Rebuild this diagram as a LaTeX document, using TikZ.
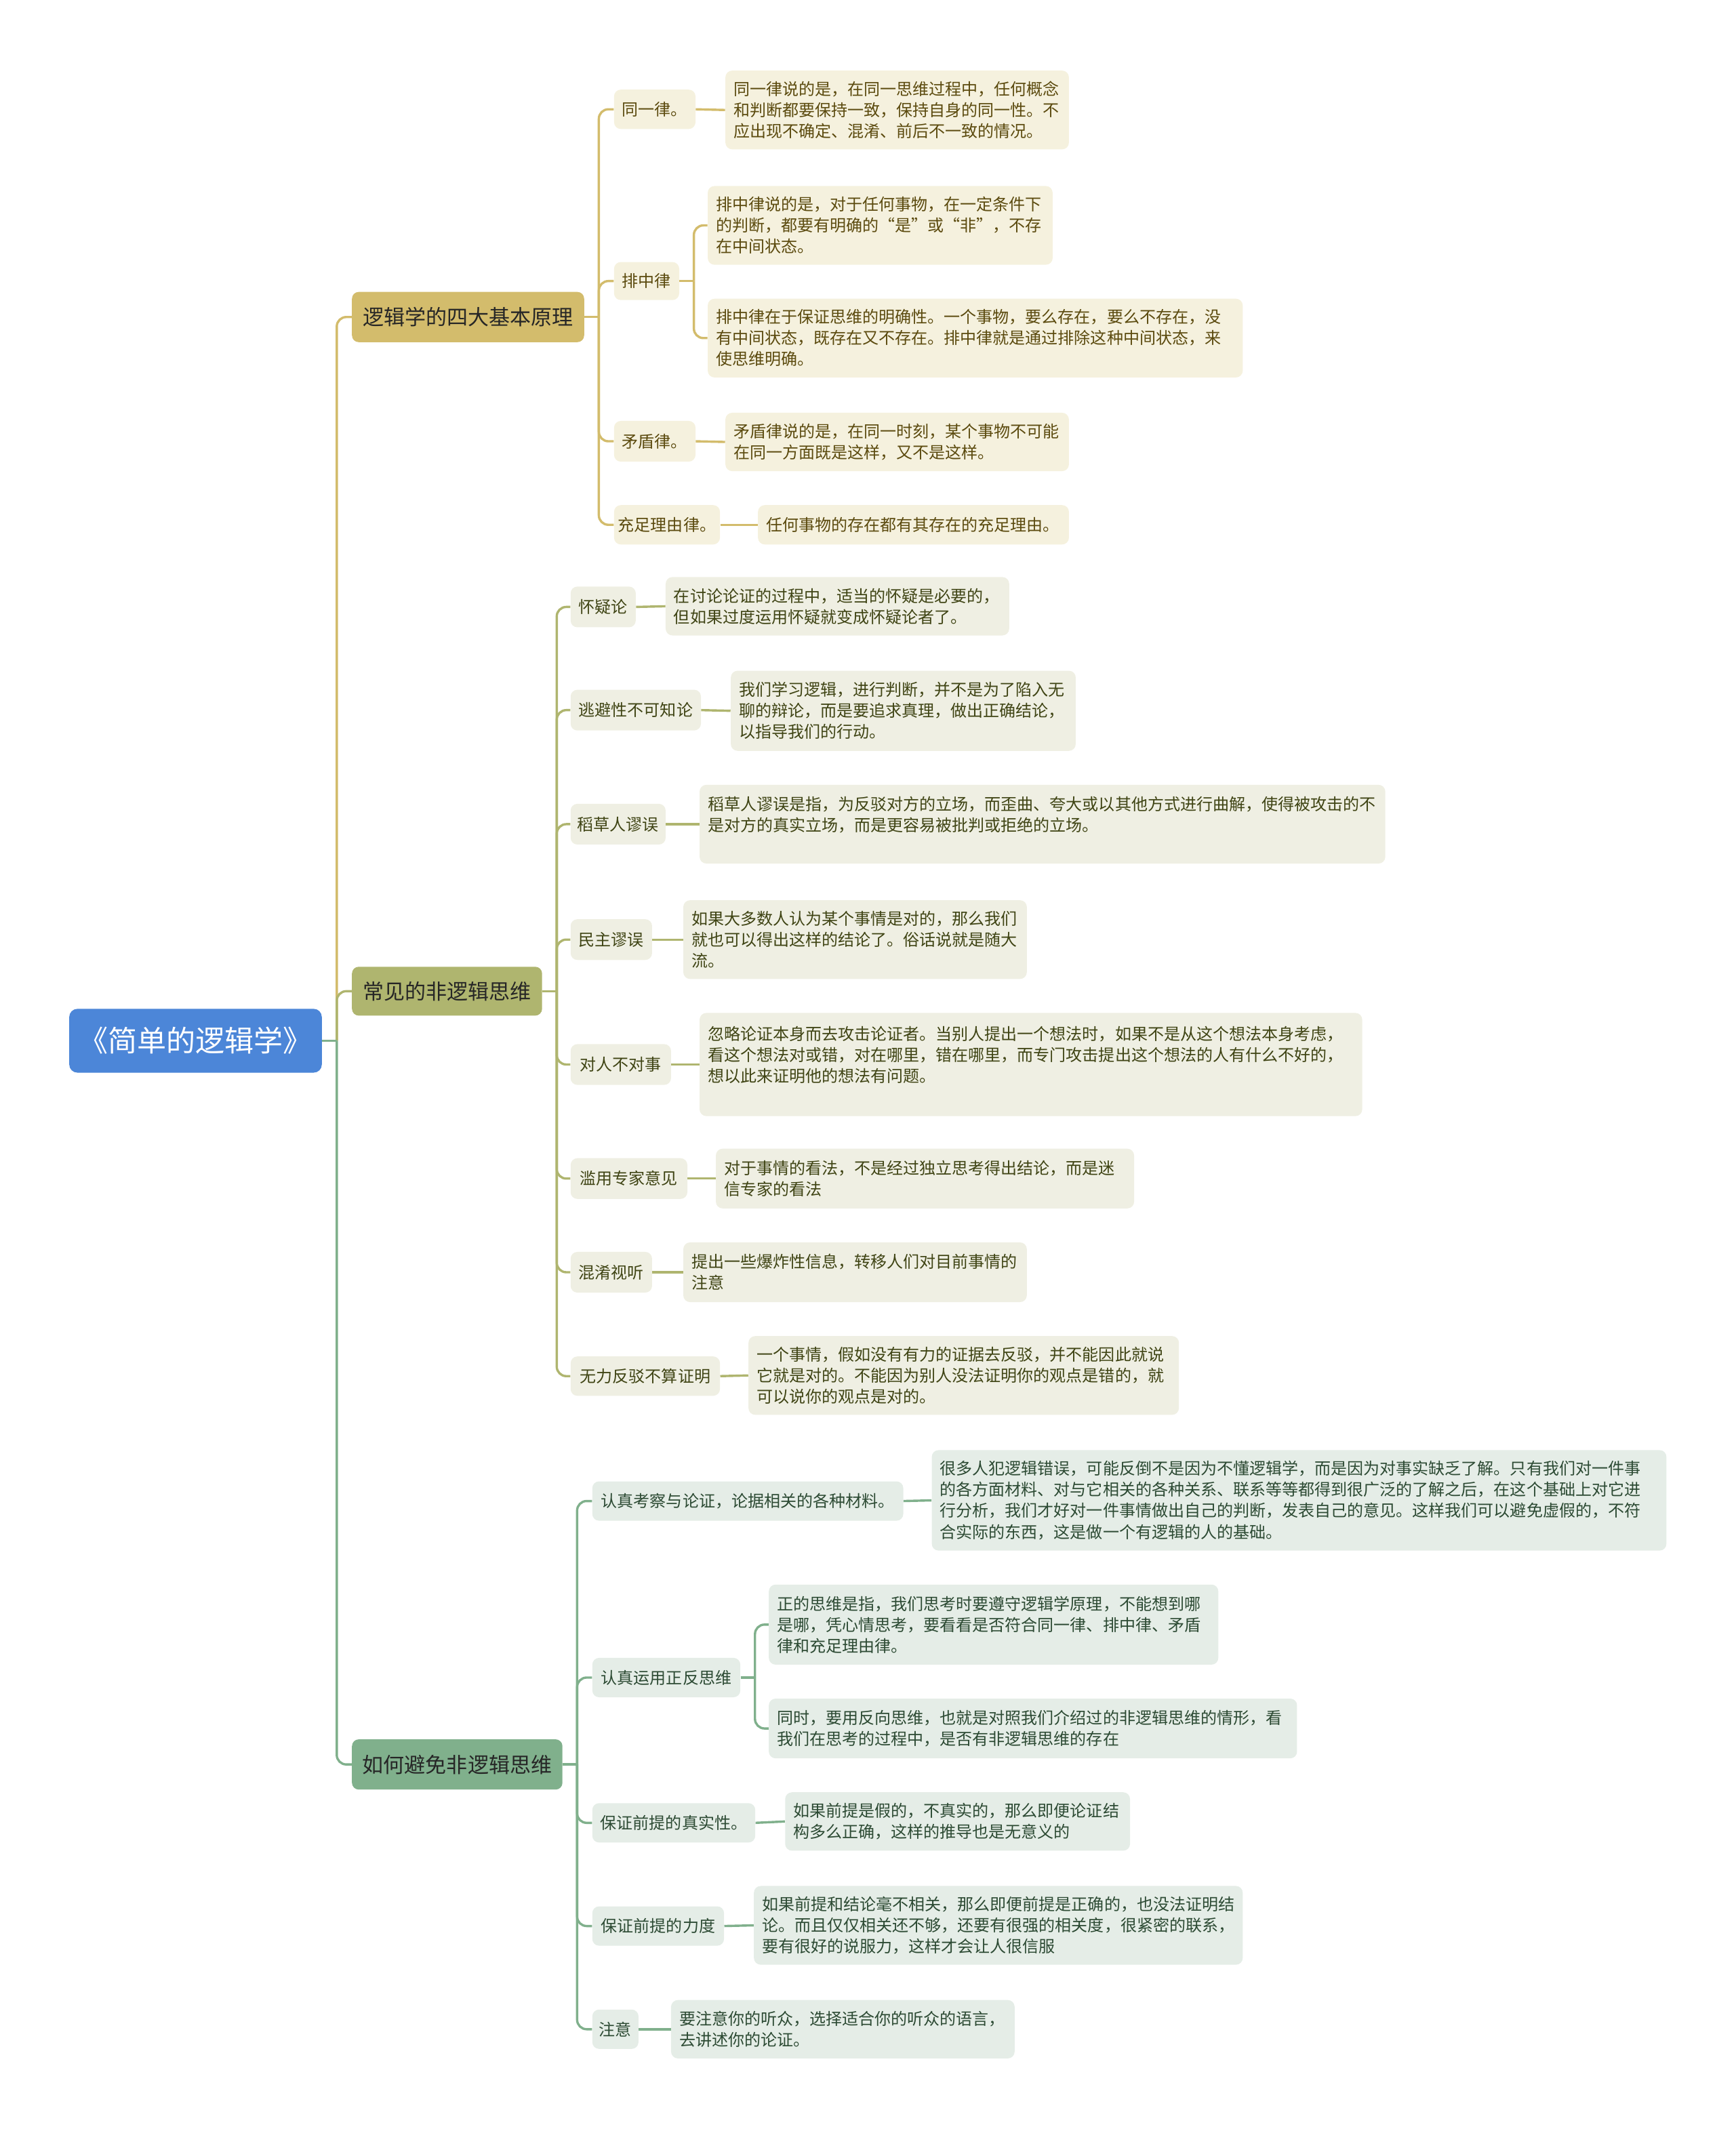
\documentclass[tikz,border=0pt]{standalone}
\usepackage{fontspec}
\newfontfamily\cjk{Noto Sans CJK SC}
\definecolor{rootc}{HTML}{4C86D8}
\definecolor{goldc}{HTML}{D3BC6C}
\definecolor{olivec}{HTML}{AFB56F}
\definecolor{greenc}{HTML}{80B08C}
\definecolor{goldbg}{HTML}{F5F1DE}
\definecolor{olivebg}{HTML}{EFEFE3}
\definecolor{greenbg}{HTML}{E5EDE7}
\definecolor{goldtx}{HTML}{5B4A0E}
\definecolor{olivetx}{HTML}{3F4414}
\definecolor{greentx}{HTML}{2C4A33}
\begin{document}
\begin{tikzpicture}[x=1pt,y=-1pt,
  base/.style={anchor=west,rounded corners=5pt,inner sep=0pt},
  mainbox/.style={base,align=center,font=\cjk\fontsize{15.5}{18}\selectfont},
  kid/.style={base,align=center,font=\cjk\fontsize{12}{15.5}\selectfont},
  leaf/.style={base,inner xsep=6pt,align=left,font=\cjk\fontsize{12}{15.5}\selectfont},
  gk/.style={fill=goldbg,text=goldtx},
  ok/.style={fill=olivebg,text=olivetx},
  grk/.style={fill=greenbg,text=greentx},
  gl/.style={draw=goldc,line width=1.7pt},
  ol/.style={draw=olivec,line width=1.7pt},
  grl/.style={draw=greenc,line width=1.7pt},
  rc/.style={rounded corners=7pt}]
\useasboundingbox (0,0) rectangle (1278,1568);

% root
\node[base,anchor=center,fill=rootc,text=white,minimum width=186pt,minimum height=47pt,rounded corners=6pt,font=\cjk\fontsize{21.5}{24}\selectfont] (root) at (144,766.5) {《简单的逻辑学》};

% main branches
\node[mainbox,fill=goldc,text=black!85,minimum width=171pt,minimum height=37pt] (b1) at (259,233.5) {逻辑学的四大基本原理};
\node[mainbox,fill=olivec,text=black!85,minimum width=140pt,minimum height=36pt] (b2) at (259,730) {常见的非逻辑思维};
\node[mainbox,fill=greenc,text=black!85,minimum width=155pt,minimum height=37pt] (b3) at (259,1299.5) {如何避免非逻辑思维};

% ---------- branch 1 ----------
\node[kid,gk,minimum width=60pt,minimum height=29pt] (c11) at (452,80.5) {同一律。};
\node[leaf,gk,text width=241pt,minimum height=58pt] (l11) at (534,81) {同一律说的是，在同一思维过程中，任何概念\\和判断都要保持一致，保持自身的同一性。不\\应出现不确定、混淆、前后不一致的情况。};
\node[kid,gk,minimum width=48pt,minimum height=28pt] (c12) at (452,207) {排中律};
\node[leaf,gk,text width=242pt,minimum height=58pt] (l12a) at (521,166) {排中律说的是，对于任何事物，在一定条件下\\的判断，都要有明确的“是”或“非”，不存\\在中间状态。};
\node[leaf,gk,text width=382pt,minimum height=58pt] (l12b) at (521,249) {排中律在于保证思维的明确性。一个事物，要么存在，要么不存在，没\\有中间状态，既存在又不存在。排中律就是通过排除这种中间状态，来\\使思维明确。};
\node[kid,gk,minimum width=60pt,minimum height=30pt] (c13) at (452,325) {矛盾律。};
\node[leaf,gk,text width=241pt,minimum height=43pt] (l13) at (534,325.5) {矛盾律说的是，在同一时刻，某个事物不可能\\在同一方面既是这样，又不是这样。};
\node[kid,gk,minimum width=78pt,minimum height=29pt] (c14) at (452,386.5) {充足理由律。};
\node[leaf,gk,text width=217pt,minimum height=29pt] (l14) at (558,386.5) {任何事物的存在都有其存在的充足理由。};

% ---------- branch 2 ----------
\node[kid,ok,minimum width=48pt,minimum height=30pt] (c21) at (420,447) {怀疑论};
\node[leaf,ok,text width=241pt,minimum height=43pt] (l21) at (490,446.5) {在讨论论证的过程中，适当的怀疑是必要的，\\但如果过度运用怀疑就变成怀疑论者了。};
\node[kid,ok,minimum width=96pt,minimum height=30pt] (c22) at (420,523) {逃避性不可知论};
\node[leaf,ok,text width=242pt,minimum height=59pt] (l22) at (538,523.5) {我们学习逻辑，进行判断，并不是为了陷入无\\聊的辩论，而是要追求真理，做出正确结论，\\以指导我们的行动。};
\node[kid,ok,minimum width=70pt,minimum height=30pt] (c23) at (420,607) {稻草人谬误};
\node[leaf,ok,text width=493pt,minimum height=58pt] (l23) at (515,607) {稻草人谬误是指，为反驳对方的立场，而歪曲、夸大或以其他方式进行曲解，使得被攻击的不\\是对方的真实立场，而是更容易被批判或拒绝的立场。\\\mbox{}};
\node[kid,ok,minimum width=60pt,minimum height=30pt] (c24) at (420,692) {民主谬误};
\node[leaf,ok,text width=241pt,minimum height=58pt] (l24) at (503,692) {如果大多数人认为某个事情是对的，那么我们\\就也可以得出这样的结论了。俗话说就是随大\\流。};
\node[kid,ok,minimum width=74pt,minimum height=30pt] (c25) at (420,784) {对人不对事};
\node[leaf,ok,text width=476pt,minimum height=76pt] (l25) at (515,784) {忽略论证本身而去攻击论证者。当别人提出一个想法时，如果不是从这个想法本身考虑，\\看这个想法对或错，对在哪里，错在哪里，而专门攻击提出这个想法的人有什么不好的，\\想以此来证明他的想法有问题。\\\mbox{}};
\node[kid,ok,minimum width=86pt,minimum height=30pt] (c26) at (420,868) {滥用专家意见};
\node[leaf,ok,text width=296pt,minimum height=44pt] (l26) at (527,868) {对于事情的看法，不是经过独立思考得出结论，而是迷\\信专家的看法};
\node[kid,ok,minimum width=60pt,minimum height=30pt] (c27) at (420,937) {混淆视听};
\node[leaf,ok,text width=241pt,minimum height=44pt] (l27) at (503,937) {提出一些爆炸性信息，转移人们对目前事情的\\注意};
\node[kid,ok,minimum width=110pt,minimum height=29pt] (c28) at (420,1013.5) {无力反驳不算证明};
\node[leaf,ok,text width=305pt,minimum height=58pt] (l28) at (551,1013) {一个事情，假如没有有力的证据去反驳，并不能因此就说\\它就是对的。不能因为别人没法证明你的观点是错的，就\\可以说你的观点是对的。};

% ---------- branch 3 ----------
\node[kid,grk,minimum width=229pt,minimum height=29pt] (c31) at (436,1105.5) {认真考察与论证，论据相关的各种材料。};
\node[leaf,grk,text width=529pt,minimum height=74pt] (l31) at (686,1105) {很多人犯逻辑错误，可能反倒不是因为不懂逻辑学，而是因为对事实缺乏了解。只有我们对一件事\\的各方面材料、对与它相关的各种关系、联系等等都得到很广泛的了解之后，在这个基础上对它进\\行分析，我们才好对一件事情做出自己的判断，发表自己的意见。这样我们可以避免虚假的，不符\\合实际的东西，这是做一个有逻辑的人的基础。};
\node[kid,grk,minimum width=109pt,minimum height=29pt] (c32) at (436,1235.5) {认真运用正反思维};
\node[leaf,grk,text width=319pt,minimum height=59pt] (l32a) at (566,1196.5) {正的思维是指，我们思考时要遵守逻辑学原理，不能想到哪\\是哪，凭心情思考，要看看是否符合同一律、排中律、矛盾\\律和充足理由律。};
\node[leaf,grk,text width=377pt,minimum height=44pt] (l32b) at (566,1273) {同时，要用反向思维，也就是对照我们介绍过的非逻辑思维的情形，看\\我们在思考的过程中，是否有非逻辑思维的存在};
\node[kid,grk,minimum width=120pt,minimum height=29pt] (c33) at (436,1342.5) {保证前提的真实性。};
\node[leaf,grk,text width=242pt,minimum height=43pt] (l33) at (578,1341.5) {如果前提是假的，不真实的，那么即便论证结\\构多么正确，这样的推导也是无意义的};
\node[kid,grk,minimum width=97pt,minimum height=29pt] (c34) at (436,1418.5) {保证前提的力度};
\node[leaf,grk,text width=348pt,minimum height=58pt] (l34) at (555,1418) {如果前提和结论毫不相关，那么即便前提是正确的，也没法证明结\\论。而且仅仅相关还不够，还要有很强的相关度，很紧密的联系，\\要有很好的说服力，这样才会让人很信服};
\node[kid,grk,minimum width=34pt,minimum height=29pt] (c35) at (436,1494.5) {注意};
\node[leaf,grk,text width=241pt,minimum height=43pt] (l35) at (494,1494.5) {要注意你的听众，选择适合你的听众的语言，\\去讲述你的论证。};

% ---------- connectors ----------
\coordinate (j0) at (248,766.5);
\draw[gl,rc] (j0) |- (b1.west);
\draw[ol,rc] (j0) |- (b2.west);
\draw[grl,rc] (j0) |- (b3.west);
\draw[grl] (root.east) -- (j0);

\coordinate (j1) at (441,233.5);
\draw[gl] (b1.east) -- (j1);
\foreach \c in {c11,c12,c13,c14} \draw[gl,rc] (j1) |- (\c.west);
\draw[gl] (c11.east) -- (l11.west);
\draw[gl] (c13.east) -- (l13.west);
\draw[gl] (c14.east) -- (l14.west);
\coordinate (j12) at (511,207);
\draw[gl] (c12.east) -- (j12);
\draw[gl,rc] (j12) |- (l12a.west);
\draw[gl,rc] (j12) |- (l12b.west);

\coordinate (j2) at (410,730);
\draw[ol] (b2.east) -- (j2);
\foreach \c in {c21,c22,c23,c24,c25,c26,c27,c28} \draw[ol,rc] (j2) |- (\c.west);
\foreach \c/\l in {c21/l21,c22/l22,c23/l23,c24/l24,c25/l25,c26/l26,c27/l27,c28/l28} \draw[ol] (\c.east) -- (\l.west);

\coordinate (j3) at (425,1299.5);
\draw[grl] (b3.east) -- (j3);
\foreach \c in {c31,c32,c33,c34,c35} \draw[grl,rc] (j3) |- (\c.west);
\foreach \c/\l in {c31/l31,c33/l33,c34/l34,c35/l35} \draw[grl] (\c.east) -- (\l.west);
\coordinate (j32) at (556,1235.5);
\draw[grl] (c32.east) -- (j32);
\draw[grl,rc] (j32) |- (l32a.west);
\draw[grl,rc] (j32) |- (l32b.west);
\end{tikzpicture}
\end{document}
